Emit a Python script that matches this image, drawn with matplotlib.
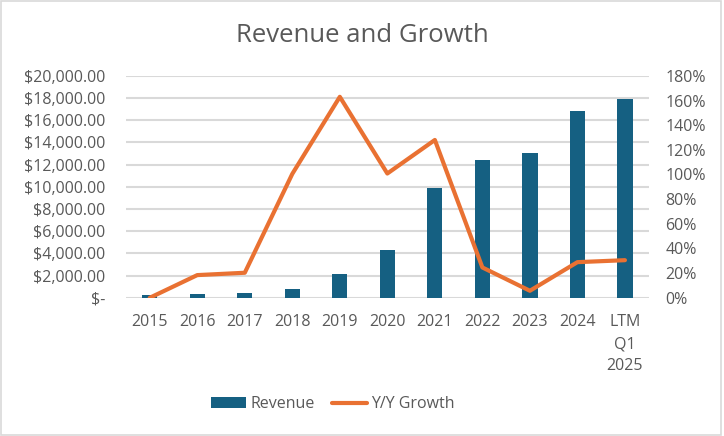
import matplotlib
matplotlib.use("Agg")
import matplotlib.pyplot as plt
from matplotlib.ticker import FuncFormatter, MultipleLocator
from matplotlib.patches import Rectangle
import numpy as np

categories = ["2015", "2016", "2017", "2018", "2019", "2020", "2021", "2022", "2023", "2024", "LTM\nQ1\n2025"]
revenue = [240, 330, 420, 780, 2130, 4290, 9870, 12400, 13030, 16820, 17900]
growth = [0.0, 18.4, 20.3, 100.5, 163.0, 100.8, 128.0, 24.6, 5.7, 28.9, 30.5]

BLUE = "#156082"
ORANGE = "#E97132"
TXT = "#595959"
GRID = "#D9D9D9"

plt.rcParams['font.family'] = ['Open Sans', 'DejaVu Sans']

fig = plt.figure(figsize=(7.24, 4.36), dpi=100)
ax = fig.add_axes([0.174, 0.317, 0.722, 0.509])
ax2 = ax.twinx()

x = np.arange(len(categories))
ax.bar(x, revenue, width=0.32, color=BLUE, zorder=3, label="Revenue")
ax2.plot(x, growth, color=ORANGE, lw=3, solid_capstyle='round', solid_joinstyle='round', zorder=4, label="Y/Y Growth")

ax.set_xlim(-0.5, len(categories) - 0.5)
ax.set_ylim(0, 20000)
ax2.set_ylim(0, 180)
ax.yaxis.set_major_locator(MultipleLocator(2000))
ax2.yaxis.set_major_locator(MultipleLocator(20))

def money(v, pos):
    if abs(v) < 1e-9:
        return "$-"
    return "${:,.2f}".format(v)

ax.yaxis.set_major_formatter(FuncFormatter(money))
ax2.yaxis.set_major_formatter(FuncFormatter(lambda v, p: "{:.0f}%".format(v)))

ax.set_xticks(x)
ax.set_xticklabels(categories, linespacing=1.5)
ax.grid(axis='y', color=GRID, lw=1.5, zorder=0)
ax.set_axisbelow(True)

for a in (ax, ax2):
    for s in a.spines.values():
        s.set_visible(False)
    a.tick_params(length=0, colors=TXT, labelsize=11)
ax.tick_params(axis='y', labelsize=11.5, pad=15)
ax2.tick_params(axis='y', labelsize=11.5, pad=12)
ax.tick_params(axis='x', labelsize=11.5, pad=12)
ax.set_zorder(ax2.get_zorder() - 1)
ax.patch.set_visible(False)
ax2.patch.set_visible(False)

fig.text(0.5, 0.918, "Revenue and Growth", ha='center', va='center', fontsize=18.5, color=TXT)

h1, l1 = ax.get_legend_handles_labels()
h2, l2 = ax2.get_legend_handles_labels()
leg = fig.legend(h1 + h2, l1 + l2, loc='center', bbox_to_anchor=(0.46, 0.073), ncol=2,
                 frameon=False, fontsize=11.5, labelcolor=TXT, handlelength=2.2,
                 columnspacing=1.1, handletextpad=0.25)

fig.patches.append(Rectangle((0.001, 0.002), 0.995, 0.995, transform=fig.transFigure,
                             fill=False, edgecolor=GRID, lw=1.2))

fig.savefig("out.png", dpi=100)
